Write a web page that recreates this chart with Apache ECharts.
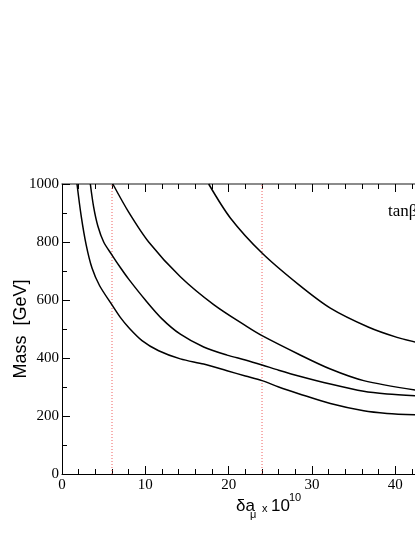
<!DOCTYPE html>
<html>
<head>
<meta charset="utf-8">
<script src="https://cdn.jsdelivr.net/npm/echarts@6/dist/echarts.min.js"></script>
<style>
  html, body { margin: 0; padding: 0; background: #fff; }
</style>
</head>
<body>
<div id="chart" style="width: 415px; height: 537px"></div>
<script>
// curves, [delta a_mu x 1e10, mass GeV]
const curveA = [
  [1.8, 1000], [2.3, 890], [2.9, 790], [3.6, 710], [4.5, 650], [6, 583],
  [7, 540], [8, 505], [9.6, 460], [11.6, 425], [14.2, 397], [17, 379],
  [19.8, 356], [22, 338], [24, 322], [26, 300], [28.4, 277], [32.2, 243],
  [36.2, 218], [39, 209], [42.5, 204],
]
const curveB = [
  [3.4, 1000], [3.8, 920], [4.3, 855], [5, 800], [6, 755], [7, 712],
  [8, 672], [10, 600], [12, 535], [14.2, 482], [17, 438], [19.8, 410],
  [22, 393], [24, 376], [26, 358], [28.4, 338], [32.2, 310], [36.2, 285],
  [39, 276], [42.5, 270],
]
const curveC = [
  [6.1, 1000], [8, 903], [10.4, 800], [14.2, 680], [18.2, 584], [22.2, 508],
  [24, 477], [28.4, 413], [32.2, 362], [36.2, 322], [42.5, 289],
]
const curveD = [
  [17.6, 1000], [20.2, 883], [24, 762], [28.4, 653], [32.2, 572],
  [36.8, 506], [40.2, 471], [42.5, 454],
]
const dottedX = [6, 24]
const xTicks = [0, 10, 20, 30, 40, 50]
const yTicks = [0, 200, 400, 600, 800, 1000]

const chart = echarts.init(document.getElementById('chart'))

const serif = 'Liberation Serif'
const sans = 'Liberation Sans'

function curve(data) {
  return {
    type: 'line',
    data: data,
    smooth: 0.3,
    showSymbol: false,
    clip: true,
    lineStyle: { color: '#000', width: 1.5 },
  }
}

function vline(x) {
  return {
    type: 'line',
    data: [[x, yTicks[0]], [x, yTicks[yTicks.length - 1]]],
    showSymbol: false,
    lineStyle: { color: '#f06060', width: 1, type: [1, 2] },
  }
}

const xBase = {
  type: 'value',
  min: xTicks[0],
  max: xTicks[xTicks.length - 1],
  interval: 10,
  axisLine: { show: true, onZero: false, lineStyle: { color: '#000', width: 1 } },
  axisTick: { show: true, inside: true, length: 8, lineStyle: { color: '#000' } },
  minorTick: { show: true, splitNumber: 5, length: 5, lineStyle: { color: '#000' } },
  splitLine: { show: false },
}

const option = {
  backgroundColor: '#fff',
  animation: false,
  grid: { left: 62, top: 184, width: 416.7, height: 290, outerBoundsMode: 'none', containLabel: false },
  xAxis: [
    Object.assign({}, xBase, {
      position: 'bottom',
      axisLabel: { color: '#000', fontFamily: serif, fontSize: 15, margin: 4 },
    }),
    Object.assign({}, xBase, {
      position: 'top',
      axisLine: { show: true, onZero: false, lineStyle: { color: '#666', width: 1.5 } },
      axisLabel: { show: false },
    }),
  ],
  yAxis: [
    {
      type: 'value',
      min: yTicks[0],
      max: yTicks[yTicks.length - 1],
      interval: 200,
      name: 'Mass  [GeV]',
      nameLocation: 'middle',
      nameGap: 32,
      nameMoveOverlap: false,
      nameTextStyle: { color: '#000', fontFamily: sans, fontSize: 18 },
      axisLine: { show: true, lineStyle: { color: '#000', width: 1 } },
      axisTick: { show: true, inside: true, length: 8, lineStyle: { color: '#000' } },
      minorTick: { show: true, splitNumber: 2, length: 5, lineStyle: { color: '#000' } },
      axisLabel: { color: '#000', fontFamily: serif, fontSize: 15, margin: 3, formatter: v => String(v) },
      splitLine: { show: false },
    },
  ],
  series: [
    vline(dottedX[0]),
    vline(dottedX[1]),
    curve(curveA),
    curve(curveB),
    curve(curveC),
    curve(curveD),
  ],
  graphic: [
    { type: 'text', left: 388, top: 203, style: { text: 'tanβ', font: '17px "Liberation Serif"', fill: '#000' } },
    // x axis title: δa_μ x 10^10
    { type: 'text', left: 236, top: 498, style: { text: 'δa', font: '17px "Liberation Sans"', fill: '#000' } },
    { type: 'text', left: 250, top: 509, style: { text: 'μ', font: '11px "Liberation Sans"', fill: '#000' } },
    { type: 'text', left: 262, top: 503, style: { text: 'x', font: '11px "Liberation Sans"', fill: '#000' } },
    { type: 'text', left: 271, top: 498, style: { text: '10', font: '17px "Liberation Sans"', fill: '#000' } },
    { type: 'text', left: 289, top: 492, style: { text: '10', font: '11px "Liberation Sans"', fill: '#000' } },
  ],
}

chart.setOption(option)
</script>
</body>
</html>
